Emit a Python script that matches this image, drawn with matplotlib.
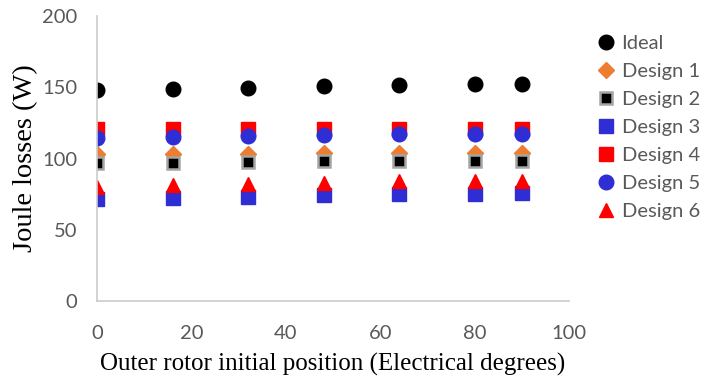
import matplotlib.pyplot as plt

# Joule losses vs outer rotor initial position
angle = [0, 16, 32, 48, 64, 80, 90]
ideal = [148.0, 148.8, 149.7, 150.9, 151.6, 152.1, 152.3]
design1 = [103.2, 103.4, 103.5, 103.6, 103.6, 103.6, 103.6]
design2 = [96.6, 97.1, 97.3, 98.0, 98.2, 98.2, 98.5]
design3 = [71.4, 72.5, 73.3, 74.4, 74.9, 75.3, 75.6]
design4 = [120.5, 120.5, 120.5, 120.5, 120.5, 120.5, 120.5]
design5 = [114.1, 114.9, 115.5, 116.7, 117.2, 117.2, 117.2]
design6 = [80.2, 81.4, 82.1, 83.0, 84.0, 84.4, 84.4]

fig = plt.figure(figsize=(7.04, 3.83), dpi=100)
ax = fig.add_axes([0.1378, 0.2141, 0.6704, 0.7441])

ms = 10.5
ax.plot(angle, ideal, 'o', color='black', ms=ms, label='Ideal')
ax.plot(angle, design1, 'D', color='#ed7d31', ms=ms * 0.75, label='Design 1')
ax.plot(angle, design2, 's', color='black', mec='#a5a5a5', mew=1.8, ms=8.3, label='Design 2')
ax.plot(angle, design3, 's', color='#2e2ed4', ms=ms * 0.95, label='Design 3')
ax.plot(angle, design4, 's', color='#ff0000', ms=ms * 0.95, label='Design 4')
ax.plot(angle, design5, 'o', color='#2e2ed4', ms=ms, label='Design 5')
ax.plot(angle, design6, '^', color='#ff0000', ms=ms, label='Design 6')

ax.set_xlim(0, 100)
ax.set_ylim(0, 200)
ax.set_xticks(range(0, 101, 20))
ax.set_yticks(range(0, 201, 50))

for side in ['top', 'right']:
    ax.spines[side].set_visible(False)
for side in ['left', 'bottom']:
    ax.spines[side].set_color('#cccccc')
    ax.spines[side].set_linewidth(1.2)
ax.tick_params(length=0, labelsize=14.5, colors='#595959')
ax.tick_params(axis='x', pad=17)
ax.tick_params(axis='y', pad=14)
for lab in ax.get_xticklabels() + ax.get_yticklabels():
    lab.set_family('Lato')

ax.set_xlabel('Outer rotor initial position (Electrical degrees)',
              family='Liberation Serif', fontsize=18, labelpad=8)
ax.set_ylabel('Joule losses (W)', family='Liberation Serif', fontsize=20.5, labelpad=3)

leg = ax.legend(loc='upper left', bbox_to_anchor=(1.041, 0.969), frameon=False,
                prop={'family': 'Lato', 'size': 14.5}, handlelength=0.8,
                handletextpad=0.35, labelspacing=0.54, borderpad=0)
for t in leg.get_texts():
    t.set_color('#595959')

fig.savefig('out.png', dpi=100)
